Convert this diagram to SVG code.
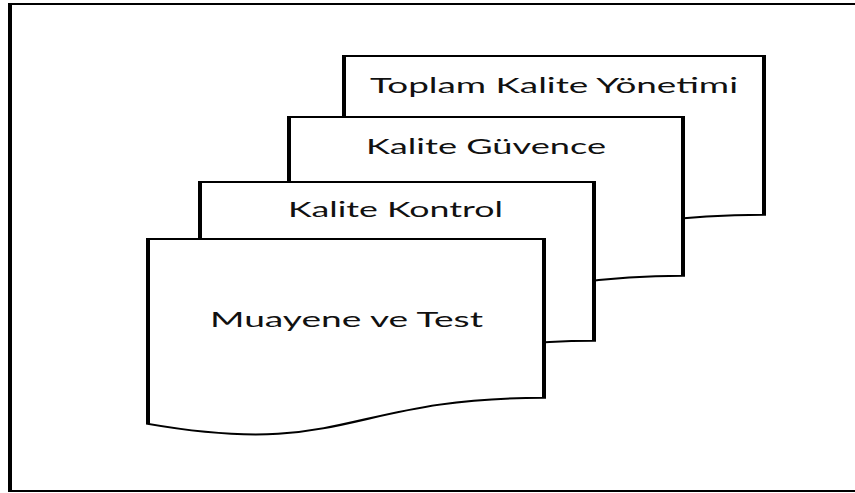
<svg xmlns="http://www.w3.org/2000/svg" width="855" height="493" viewBox="0 0 855 493">
  <style>
    .doc { fill: #ffffff; stroke: #000000; stroke-width: 2; stroke-linejoin: miter; }
    .frame { fill: #ffffff; stroke: #000000; stroke-width: 2; }
    .label { font-family: "Lato", "Open Sans", "Liberation Sans", sans-serif; font-size: 21px; fill: #111111; }
  </style>
  <rect x="0" y="0" width="855" height="493" fill="#ffffff"/>
  <!-- shapes are drawn at half width, then stretched horizontally -->
  <g transform="scale(2,1)">
    <rect class="frame" x="5" y="4" width="445" height="487"/>
  </g>
  <g id="node-toplam-kalite">
    <path class="doc" transform="scale(2,1)" d="M172,56 H382 V214.8 C277,214.8 277,275.3 172,240.9 Z"/>
    <text class="label" x="370" y="93" textLength="368" lengthAdjust="spacingAndGlyphs">Toplam Kalite Yönetimi</text>
  </g>
  <g id="node-kalite-guvence">
    <path class="doc" transform="scale(2,1)" d="M144.5,117 H341.5 V275.8 C243,275.8 243,336.3 144.5,301.9 Z"/>
    <text class="label" x="366" y="154" textLength="240" lengthAdjust="spacingAndGlyphs">Kalite Güvence</text>
  </g>
  <g id="node-kalite-kontrol">
    <path class="doc" transform="scale(2,1)" d="M100,182 H297 V340.8 C198.5,340.8 198.5,401.3 100,366.9 Z"/>
    <text class="label" x="288" y="217" textLength="215" lengthAdjust="spacingAndGlyphs">Kalite Kontrol</text>
  </g>
  <g id="node-muayene-test">
    <path class="doc" transform="scale(2,1)" d="M74,239 H272 V397.8 C173,397.8 173,458.3 74,423.9 Z"/>
    <text class="label" x="210" y="327" textLength="273" lengthAdjust="spacingAndGlyphs">Muayene ve Test</text>
  </g>
  <g id="connectors"></g>
</svg>
